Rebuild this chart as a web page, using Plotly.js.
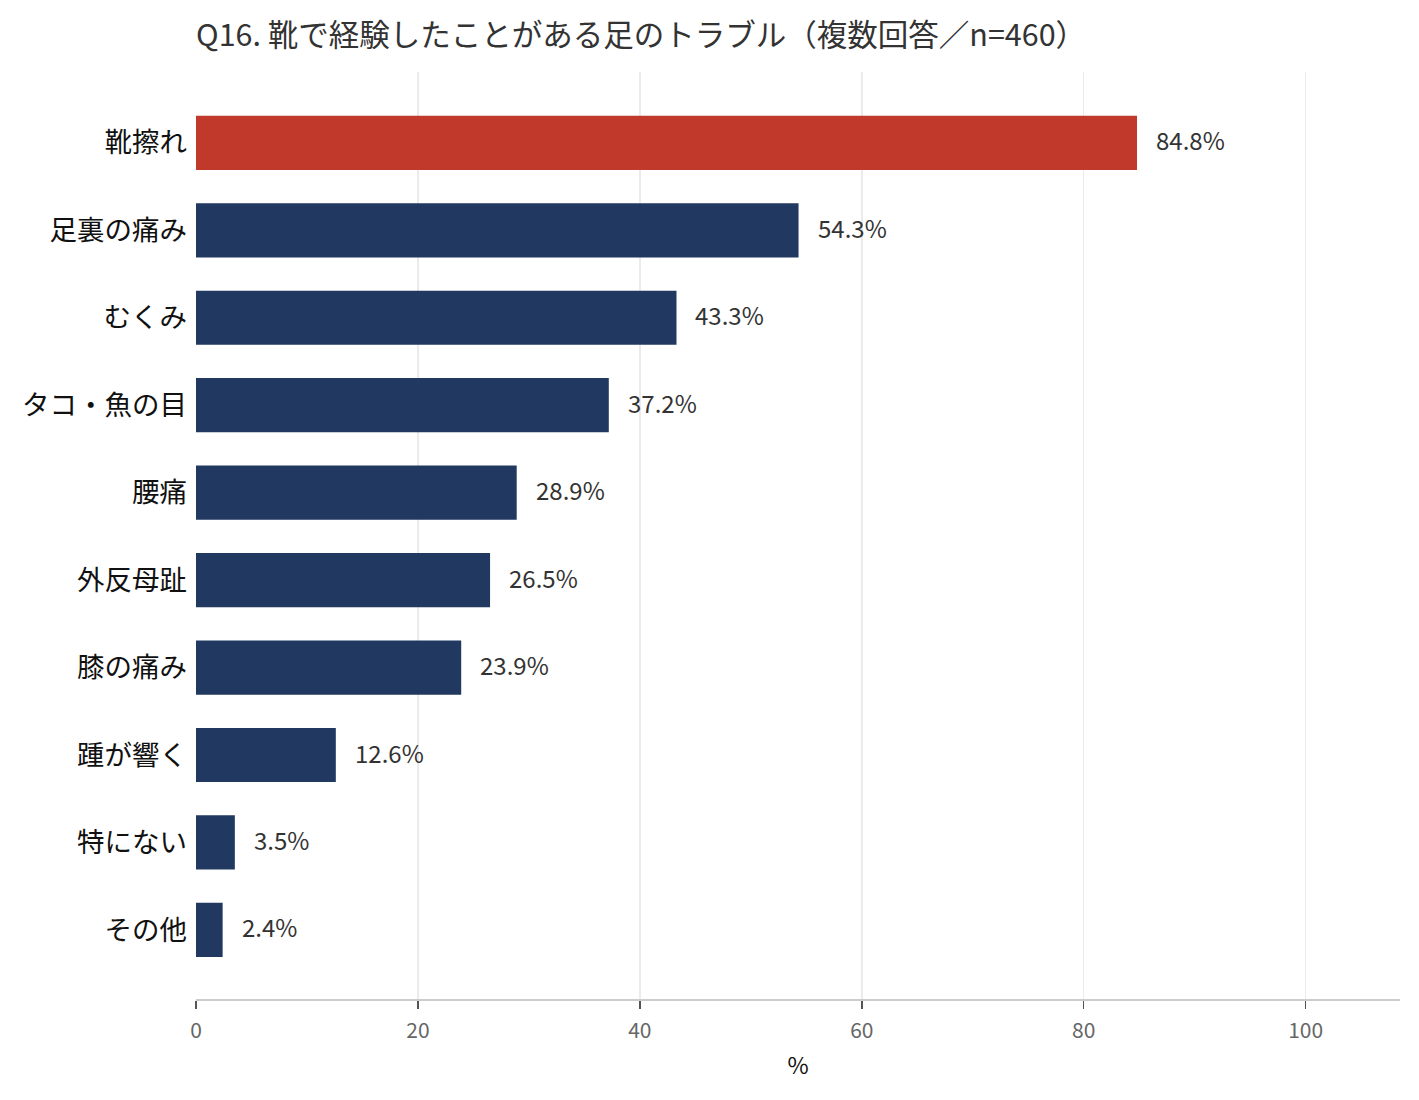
<!DOCTYPE html>
<html>
<head>
<meta charset="utf-8">
<script src="https://cdn.plot.ly/plotly-3.0.1.min.js"></script>
<style>
  body { margin: 0; background: #fff; }
  #chart { width: 1419px; height: 1100px; }
</style>
</head>
<body>
<div id="chart"></div>
<script>
// Q16 foot trouble answers (multiple answer, n=460)
const categories = ['靴擦れ', '足裏の痛み', 'むくみ', 'タコ・魚の目', '腰痛', '外反母趾', '膝の痛み', '踵が響く', '特にない', 'その他'];
const percents = [84.8, 54.3, 43.3, 37.2, 28.9, 26.5, 23.9, 12.6, 3.5, 2.4];
const highlightColor = '#c0392b';
const baseColor = '#213861';

const font = '"Noto Sans CJK JP", "Noto Sans", sans-serif';

const barColors = percents.map((v, i) => i === 0 ? highlightColor : baseColor);

const trace = {
    type: 'bar',
    orientation: 'h',
    x: percents,
    y: categories,
    marker: { color: barColors },
    hoverinfo: 'x+y'
};

// value labels sit a little right of each bar end
const labels = categories.map((c, i) => ({
    x: percents[i],
    y: c,
    xref: 'x',
    yref: 'y',
    text: percents[i].toFixed(1) + '%',
    showarrow: false,
    xanchor: 'left',
    xshift: 17,
    yshift: 3,
    font: { family: font, size: 24, color: '#333333' }
}));

const layout = {
    width: 1419,
    height: 1100,
    margin: { l: 196, r: 19, t: 72, b: 101 },
    paper_bgcolor: '#ffffff',
    plot_bgcolor: '#ffffff',
    font: { family: font },
    showlegend: false,
    bargap: 0.38,
    title: {
        text: 'Q16. 靴で経験したことがある足のトラブル（複数回答／n=460）',
        x: 0,
        xref: 'paper',
        xanchor: 'left',
        y: 0.968,
        yref: 'container',
        yanchor: 'middle',
        font: { family: font, size: 30.5, color: '#333333' }
    },
    xaxis: {
        range: [0, 108.5],
        tickvals: [0, 20, 40, 60, 80, 100],
        showgrid: true,
        gridcolor: '#ebebeb',
        gridwidth: 1.5,
        zeroline: false,
        showline: true,
        linecolor: '#cccccc',
        linewidth: 2,
        ticks: 'outside',
        ticklen: 8,
        tickwidth: 1.5,
        tickcolor: '#555555',
        ticklabelstandoff: 4,
        tickfont: { family: font, size: 21, color: '#666666' },
        title: {
            text: '%',
            standoff: 15,
            font: { family: font, size: 23, color: '#111111' }
        }
    },
    yaxis: {
        type: 'category',
        range: [9.79, -0.81],
        showgrid: false,
        zeroline: false,
        showline: false,
        ticks: '',
        ticklabelstandoff: 8,
        tickfont: { family: font, size: 27.5, color: '#111111' }
    },
    annotations: labels
};

Plotly.newPlot('chart', [trace], layout, { displayModeBar: false, staticPlot: true });
</script>
</body>
</html>
